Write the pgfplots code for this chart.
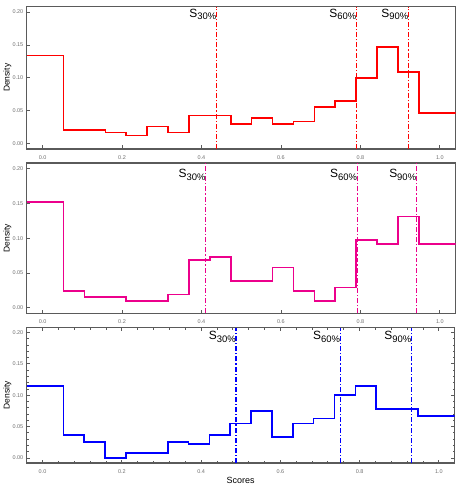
\documentclass[border=0pt]{standalone}
\usepackage{pgfplots}
\pgfplotsset{compat=1.18}
\usepackage{fontspec}
\setmainfont{Liberation Sans}

\definecolor{framegray}{RGB}{90,90,90}
\definecolor{ticktext}{RGB}{110,110,110}

\newcommand{\slab}[1]{{\fontsize{12}{12}\selectfont S}\raisebox{-2.5pt}{\fontsize{9.5}{9.5}\selectfont #1\%}}

\pgfplotsset{
  panel/.style={
    scale only axis,
    width=429bp,
    xmin=-0.04, xmax=1.04,
    ymin=-0.008, ymax=0.208,
    xtick={0,0.2,...,1.0},
    ytick={0,0.05,0.10,0.15,0.20},
    axis line style={draw=framegray, line width=1.1pt},
    tick style={draw=framegray, line width=0.8pt},
    major tick length=3.5bp,
    minor tick length=2bp,
    tick align=inside,
    ticklabel style={font=\fontsize{5.5}{6}\selectfont, text=ticktext},
    xticklabel style={yshift=-3bp},
    /pgf/number format/assume math mode=true,
    xticklabel={\pgfmathprintnumber[fixed, fixed zerofill, precision=1]{\tick}},
    yticklabel={\pgfmathprintnumber[fixed, fixed zerofill, precision=2]{\tick}},
    ylabel={Density},
    ylabel style={at={([xshift=-15bp]axis description cs:0,0.5)}, anchor=south, inner sep=0pt, font=\fontsize{8.5}{9}\selectfont},
  },
  steps/.style={const plot, line width=1.6pt, mark=none},
  qline/.style={line width=1.3pt, dash pattern=on 5pt off 2pt on 1.2pt off 2pt, mark=none},
}

\begin{document}
\begin{tikzpicture}
\path (0,0) rectangle (463bp,-491bp);

% top panel
\begin{axis}[panel, height=142.3bp, at={(26.7bp,-6.7bp)}, anchor=north west,
  xtick pos=bottom, ytick pos=left]
\addplot[steps, color=red] coordinates {
(-0.04,0.134) (0.0526,0.021) (0.1053,0.021) (0.1579,0.017) (0.2105,0.0126)
(0.2632,0.026) (0.3158,0.017) (0.3684,0.043) (0.4211,0.043) (0.4737,0.030)
(0.5263,0.039) (0.5789,0.030) (0.6316,0.034) (0.6842,0.056) (0.7368,0.065)
(0.7895,0.0995) (0.8421,0.147) (0.8947,0.109) (0.9474,0.047) (1.04,0.047)
};
\addplot[qline, color=red] coordinates {(0.438,-0.008) (0.438,0.208)};
\addplot[qline, color=red] coordinates {(0.790,-0.008) (0.790,0.208)};
\addplot[qline, color=red] coordinates {(0.921,-0.008) (0.921,0.208)};
\node[anchor=north east, inner sep=0pt, yshift=-2bp] at (axis cs:0.438,0.208) {\slab{30}};
\node[anchor=north east, inner sep=0pt, yshift=-2bp] at (axis cs:0.790,0.208) {\slab{60}};
\node[anchor=north east, inner sep=0pt, yshift=-2bp] at (axis cs:0.921,0.208) {\slab{90}};
\end{axis}

% middle panel
\begin{axis}[panel, height=150.3bp, at={(26.7bp,-163bp)}, anchor=north west,
  xtick pos=bottom, ytick pos=left]
\addplot[steps, color=magenta] coordinates {
(-0.04,0.152) (0.0526,0.024) (0.1053,0.015) (0.1579,0.015) (0.2105,0.0097)
(0.2632,0.0097) (0.3158,0.019) (0.3684,0.0686) (0.4211,0.073) (0.4737,0.0386)
(0.5263,0.0386) (0.5789,0.058) (0.6316,0.024) (0.6842,0.0097) (0.7368,0.029)
(0.7895,0.0976) (0.8421,0.092) (0.8947,0.131) (0.9474,0.092) (1.04,0.092)
};
\addplot[qline, color=magenta] coordinates {(0.411,-0.008) (0.411,0.208)};
\addplot[qline, color=magenta] coordinates {(0.792,-0.008) (0.792,0.208)};
\addplot[qline, color=magenta] coordinates {(0.941,-0.008) (0.941,0.208)};
\node[anchor=north east, inner sep=0pt, yshift=-6bp] at (axis cs:0.411,0.208) {\slab{30}};
\node[anchor=north east, inner sep=0pt, yshift=-6bp] at (axis cs:0.792,0.208) {\slab{60}};
\node[anchor=north east, inner sep=0pt, yshift=-6bp] at (axis cs:0.941,0.208) {\slab{90}};
\end{axis}

% bottom panel
\begin{axis}[panel, width=428bp, height=135.5bp, at={(26.7bp,-327.5bp)}, anchor=north west,
  minor x tick num=4, minor y tick num=4,
  xlabel={Scores},
  xlabel style={at={([yshift=-14.4bp]axis description cs:0.5,0)}, anchor=north, inner sep=0pt, font=\fontsize{9}{10}\selectfont}]
\addplot[steps, color=blue] coordinates {
(-0.04,0.115) (0.0526,0.037) (0.1053,0.0256) (0.1579,0.0) (0.2105,0.0075)
(0.2632,0.0075) (0.3158,0.0256) (0.3684,0.022) (0.4211,0.037) (0.4737,0.055)
(0.5263,0.075) (0.5789,0.033) (0.6316,0.055) (0.6842,0.063) (0.7368,0.100)
(0.7895,0.115) (0.8421,0.078) (0.8947,0.078) (0.9474,0.067) (1.04,0.067)
};
\addplot[qline, color=blue] coordinates {(0.488,-0.008) (0.488,0.208)};
\addplot[qline, color=blue] coordinates {(0.751,-0.008) (0.751,0.208)};
\addplot[qline, color=blue] coordinates {(0.931,-0.008) (0.931,0.208)};
\node[anchor=north east, inner sep=0pt, yshift=-3.5bp] at (axis cs:0.488,0.208) {\slab{30}};
\node[anchor=north east, inner sep=0pt, yshift=-3.5bp] at (axis cs:0.751,0.208) {\slab{60}};
\node[anchor=north east, inner sep=0pt, yshift=-3.5bp] at (axis cs:0.931,0.208) {\slab{90}};
\end{axis}
\end{tikzpicture}
\end{document}
